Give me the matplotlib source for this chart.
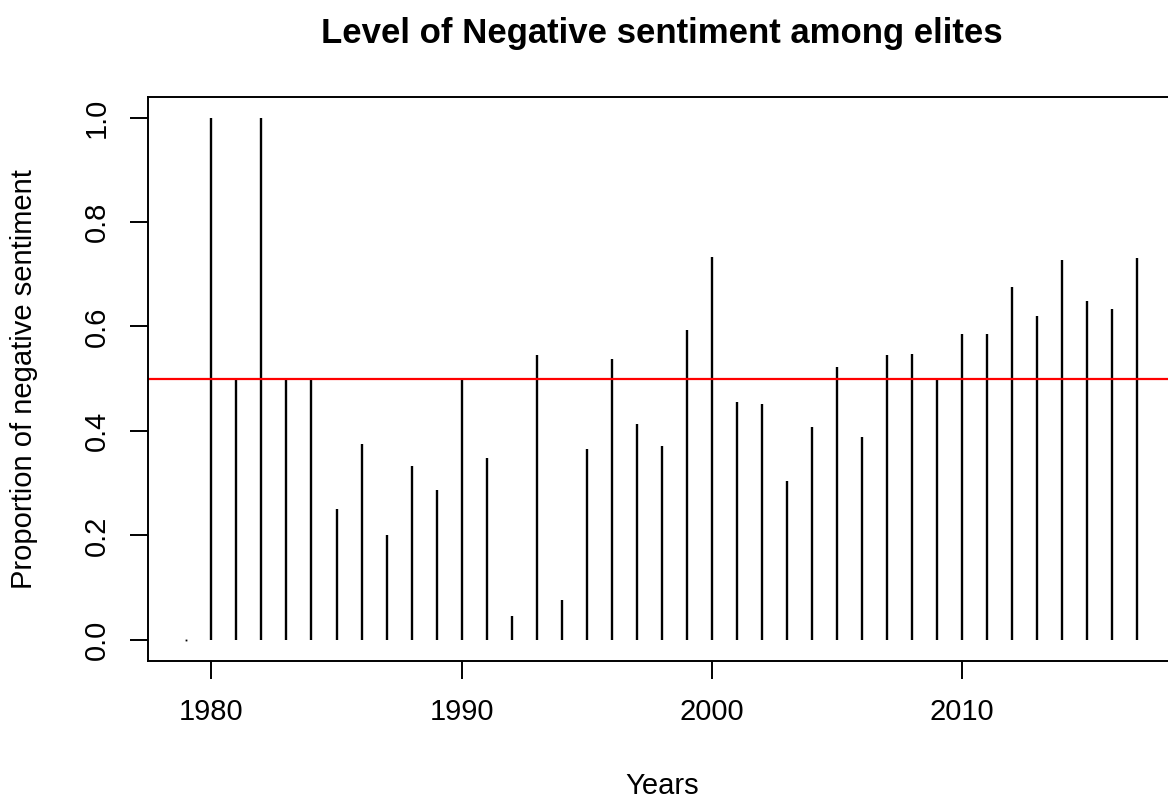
import matplotlib
matplotlib.use("Agg")
from matplotlib import pyplot as plt

plt.rcParams['font.family'] = ['Liberation Sans', 'DejaVu Sans']

years = list(range(1979, 2018))
negative = [0.0, 1.0, 0.5, 1.0, 0.5, 0.5, 0.25, 0.375, 0.2, 0.333,
            0.286, 0.5, 0.348, 0.045, 0.545, 0.077, 0.365, 0.538, 0.414, 0.372,
            0.593, 0.733, 0.455, 0.452, 0.305, 0.407, 0.522, 0.388, 0.545, 0.548,
            0.5, 0.586, 0.586, 0.675, 0.620, 0.727, 0.648, 0.634, 0.732]
threshold = 0.5
xticks = [1980, 1990, 2000, 2010]
yticks = [0.0, 0.2, 0.4, 0.6, 0.8, 1.0]

W, H = 1168, 802
fig = plt.figure(figsize=(W / 100, H / 100), dpi=100)
left, right, top, bottom = 148.3, 1175.5, 96.7, 660.7
ax = fig.add_axes([left / W, 1 - bottom / H, (right - left) / W, (bottom - top) / H])

ax.vlines(years, 0, negative, colors='black', linewidth=1.7)
# zero-height years still leave a dot in R's type="h"
zero_years = [y for y, v in zip(years, negative) if v == 0]
ax.plot(zero_years, [0] * len(zero_years), 's', color='black', ms=1.3, mew=0)
ax.axhline(threshold, color='#ff0000', linewidth=1.6)

# R-style 4% padding
span = years[-1] - years[0]
ax.set_xlim(years[0] - 0.04 * span, years[-1] + 0.04 * span)
ax.set_ylim(-0.04, 1.04)

ax.set_xticks(xticks)
ax.set_yticks(yticks)
ax.set_yticklabels([f"{v:.1f}" for v in yticks], rotation=90, va='center')
ax.tick_params(length=13, width=1.4, labelsize=21, direction='out')
ax.tick_params(axis='x', pad=14)
ax.tick_params(axis='y', pad=14)
for s in ax.spines.values():
    s.set_linewidth(1.4)

ax.set_xlabel('Years', fontsize=21)
ax.xaxis.set_label_coords(0.5, -0.222)
ax.xaxis.label.set_va('center')
ax.set_ylabel('Proportion of negative sentiment', fontsize=21)
ax.yaxis.set_label_coords(-0.121, 0.5)
ax.yaxis.label.set_va('center')

fig.text(((left + right) / 2) / W, 1 - 43 / H, 'Level of Negative sentiment among elites',
         ha='center', va='baseline', fontsize=25, fontweight='bold')

fig.savefig('out.png', dpi=100)
